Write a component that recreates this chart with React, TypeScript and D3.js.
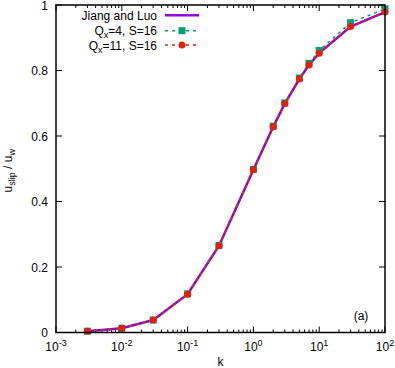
import React from "react";
import * as d3 from "d3";

const kValues = [0.003, 0.01, 0.03, 0.1, 0.3, 1, 2, 3, 5, 7, 10, 30, 100];
const jiangLuo = [0.004, 0.013, 0.038, 0.117, 0.265, 0.497, 0.628, 0.699, 0.774, 0.817, 0.853, 0.934, 0.978];
const qx4 = [0.004, 0.013, 0.038, 0.118, 0.266, 0.498, 0.63, 0.701, 0.777, 0.822, 0.861, 0.946, 0.988];
const qx11 = [0.004, 0.013, 0.038, 0.117, 0.265, 0.497, 0.628, 0.699, 0.774, 0.817, 0.853, 0.934, 0.979];
const xTickExps = [-3, -2, -1, 0, 1, 2];
const yTicks = [0, 0.2, 0.4, 0.6, 0.8, 1];
const yTickLabels = ["0", "0.2", "0.4", "0.6", "0.8", "1"];

const W = 395, H = 368;
const L = 56, R = 385, T = 5, B = 332.5;
const FONT = "Liberation Sans, Arial, sans-serif";
const FS = 12, SFS = 9;

export default function App() {
  const x = d3.scaleLog().domain([1e-3, 1e2]).range([L, R]);
  const y = d3.scaleLinear().domain([0, 1]).range([B, T]);
  const line = d3.line<number>().x((_, i) => x(kValues[i])).y((v) => y(v));

  const minor: number[] = [];
  for (let e = -3; e < 2; e++) for (let m = 2; m <= 9; m++) minor.push(m * Math.pow(10, e));

  const purple = "#9400d3", green = "#009e73", red = "#e51e10";

  return (
    <svg width={W} height={H} style={{ position: "absolute", left: 0, top: 0 }} fontFamily={FONT}>
      <rect x={0} y={0} width={W} height={H} fill="white" />
      {xTickExps.map((e) => {
        const px = x(Math.pow(10, e));
        return (
          <g key={"xt" + e}>
            <line x1={px} x2={px} y1={B} y2={B - 6} stroke="black" strokeWidth={1} />
            <line x1={px} x2={px} y1={T} y2={T + 6} stroke="black" strokeWidth={1} />
            <text x={px} y={351} fontSize={FS} textAnchor="middle">
              <tspan>10</tspan>
              <tspan dy={-5} fontSize={SFS}>{e}</tspan>
            </text>
          </g>
        );
      })}
      {minor.map((m, i) => {
        const px = x(m);
        return (
          <g key={"mt" + i}>
            <line x1={px} x2={px} y1={B} y2={B - 3} stroke="black" strokeWidth={1} />
            <line x1={px} x2={px} y1={T} y2={T + 3} stroke="black" strokeWidth={1} />
          </g>
        );
      })}
      {yTicks.map((v, i) => (
        <g key={"yt" + i}>
          <line x1={L} x2={L + 6} y1={y(v)} y2={y(v)} stroke="black" strokeWidth={1} />
          <line x1={R} x2={R - 6} y1={y(v)} y2={y(v)} stroke="black" strokeWidth={1} />
          <text x={L - 8} y={y(v) + 4.5} fontSize={FS} textAnchor="end">{yTickLabels[i]}</text>
        </g>
      ))}
      <text x={(L + R) / 2} y={366} fontSize={FS} textAnchor="middle">k</text>
      <text transform={`translate(12,${(T + B) / 2 + 2}) rotate(-90)`} fontSize={FS} textAnchor="middle">
        <tspan>u</tspan>
        <tspan dy={3} fontSize={SFS}>slip</tspan>
        <tspan dy={-3}> / u</tspan>
        <tspan dy={3} fontSize={SFS}>w</tspan>
      </text>
      <text x={361} y={320} fontSize={FS} textAnchor="middle">(a)</text>

      <path d={line(jiangLuo) || ""} fill="none" stroke={purple} strokeWidth={2.5} />
      <path d={line(qx4) || ""} fill="none" stroke={green} strokeWidth={1.5} strokeDasharray="3,4" />
      {qx4.map((v, i) => (
        <rect key={"g" + i} x={x(kValues[i]) - 3.5} y={y(v) - 3.5} width={7} height={7} fill={green} />
      ))}
      <path d={line(qx11) || ""} fill="none" stroke={red} strokeWidth={1.5} strokeDasharray="3,4" />
      {qx11.map((v, i) => (
        <circle key={"r" + i} cx={x(kValues[i])} cy={y(v)} r={3.5} fill={red} />
      ))}

      <text x={157} y={19.5} fontSize={FS} textAnchor="end">Jiang and Luo</text>
      <line x1={165} x2={199} y1={15.3} y2={15.3} stroke={purple} strokeWidth={2.5} />
      <text x={157} y={35} fontSize={FS} textAnchor="end">
        <tspan>Q</tspan>
        <tspan dy={3} fontSize={SFS}>x</tspan>
        <tspan dy={-3}>=4, S=16</tspan>
      </text>
      <line x1={165} x2={199} y1={30.7} y2={30.7} stroke={green} strokeWidth={1.5} strokeDasharray="3,4" />
      <rect x={178.5} y={27.2} width={7} height={7} fill={green} />
      <text x={157} y={49.5} fontSize={FS} textAnchor="end">
        <tspan>Q</tspan>
        <tspan dy={3} fontSize={SFS}>x</tspan>
        <tspan dy={-3}>=11, S=16</tspan>
      </text>
      <line x1={165} x2={199} y1={45} y2={45} stroke={red} strokeWidth={1.5} strokeDasharray="3,4" />
      <circle cx={182} cy={45} r={3.5} fill={red} />

      <rect x={L} y={T} width={R - L} height={B - T} fill="none" stroke="black" strokeWidth={1.5} />
    </svg>
  );
}
